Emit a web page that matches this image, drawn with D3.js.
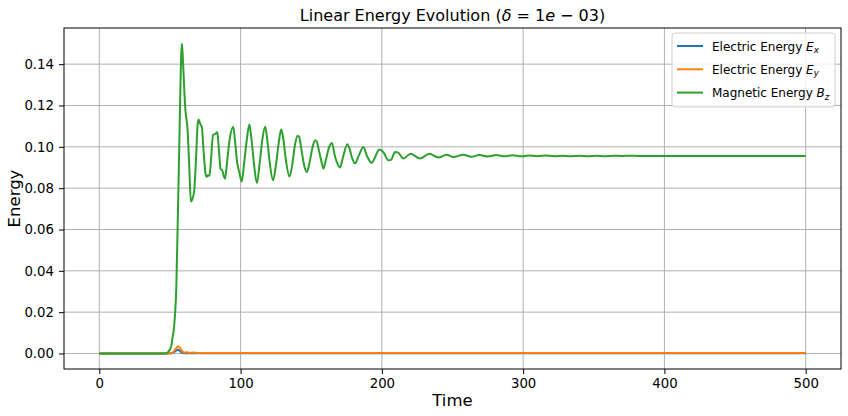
<!DOCTYPE html>
<html>
<head>
<meta charset="utf-8">
<script src="https://cdn.jsdelivr.net/npm/d3@7"></script>
<style>
  body { margin: 0; background: #fff; }
  text { font-family: "DejaVu Sans", sans-serif; fill: #000; }
</style>
</head>
<body>
<div id="wrapper"></div>
<script>
// data
const timeBz = [0, 10, 20, 30, 40, 46, 48, 49.5, 50.7, 51.9, 52.6, 53.5, 54.5, 55.4, 56.3, 57.2, 58, 58.5,
  59.3, 60.8, 62.5, 63.7, 64.8, 65.8, 67.2, 68.5, 69.5, 70.2, 71.5, 72.6, 73.8, 75.2, 75.8, 77, 78, 79,
  80.5, 82, 83.5, 84.5, 85.8, 87, 89, 90.5, 92.2, 94.8, 96.2, 97.5, 99, 100.8, 102.5, 104.5, 106.2,
  107.5, 109, 111.5, 113.5, 115.5, 117.4, 118.8, 120.5, 123, 125, 127, 128.7, 130, 132, 134.6, 136.5,
  138.5, 140.3, 141.5, 143, 145, 146.9, 149, 151, 152.8, 154, 155.5, 157.5, 158.6, 160.5, 162.5, 164.6,
  166.9, 168.5, 170.4, 172.5, 175.6, 177.5, 178.7, 181, 183.5, 186.9, 189.5, 192.8, 195.5, 198.2, 201,
  204.6, 206.5, 209.3, 211.5, 215.2, 220.4, 227, 233.6, 240, 245.9, 250.6, 257.6, 263.5, 269, 275, 281,
  287, 292.5, 298.5, 304, 310, 316, 322, 327.5, 333.5, 340, 346, 352, 358, 364, 370, 376, 382, 400,
  450, 500];
const energyBz = [0, 0, 0, 0, 0, 0, 0.0003, 0.0015, 0.003, 0.0079, 0.011, 0.018, 0.032, 0.06, 0.09, 0.122, 0.145, 0.150,
  0.140, 0.119, 0.108, 0.090, 0.0735, 0.0745, 0.079, 0.095, 0.110, 0.1132, 0.111, 0.1095, 0.098, 0.087, 0.0855, 0.0862, 0.086, 0.093,
  0.1058, 0.1062, 0.1072, 0.100, 0.0895, 0.0885, 0.0846, 0.093, 0.1032, 0.1097, 0.102, 0.0927, 0.0880, 0.0832, 0.092, 0.104, 0.1108,
  0.105, 0.095, 0.0825, 0.092, 0.104, 0.1097, 0.104, 0.093, 0.0838, 0.091, 0.102, 0.1084, 0.105, 0.094, 0.0856, 0.091,
  0.101, 0.1054, 0.1047, 0.099, 0.091, 0.0878, 0.093, 0.100, 0.1032, 0.1025, 0.098, 0.0921, 0.0895, 0.094, 0.0995, 0.1019,
  0.0951, 0.092, 0.0900, 0.095, 0.1013, 0.0983, 0.0951, 0.0920, 0.0955, 0.0999, 0.0955, 0.0922, 0.0955, 0.0987, 0.0975,
  0.0935, 0.0937, 0.0975, 0.0972, 0.0943, 0.0967, 0.0943, 0.0967, 0.0948, 0.0962, 0.0951, 0.0962, 0.0952, 0.0961, 0.0953, 0.0960,
  0.0954, 0.0959, 0.0954, 0.0958, 0.0955, 0.0958, 0.0955, 0.0957, 0.0955, 0.0957, 0.0955, 0.0957, 0.0955, 0.0957, 0.0956, 0.0957, 0.0956, 0.0956,
  0.0956, 0.0956];

const timeEx = [0, 48, 52, 53.5, 55, 55.8, 57, 58.5, 60, 500];
const energyEx = [0, 0, 0.0003, 0.0010, 0.0017, 0.0018, 0.0012, 0.0004, 0.0001, 0.0001];

const timeEy = [0, 48, 51, 52.5, 54, 55.8, 57, 58.5, 60, 62, 64, 66, 70, 80, 500];
const energyEy = [0, 0, 0, 0.0008, 0.0022, 0.0035, 0.0028, 0.0012, 0.0004, 0.0006, 0.0003, 0.0005, 0.0003, 0.0002, 0.0002];

const xTicks = [0, 100, 200, 300, 400, 500];
const yTicks = [0, 0.02, 0.04, 0.06, 0.08, 0.10, 0.12, 0.14];

const seriesColors = ["#1f77b4", "#ff7f0e", "#2ca02c"];

const dimension = {
    width: 848,
    height: 416,
    margin: { top: 28, left: 64, bottom: 47, right: 7 }
};
dimension.boundedWidth = dimension.width - dimension.margin.left - dimension.margin.right;
dimension.boundedHeight = dimension.height - dimension.margin.top - dimension.margin.bottom;

const svg = d3.select("#wrapper").append("svg")
    .attr("width", dimension.width)
    .attr("height", dimension.height);

const bounded = svg.append("g")
    .attr("transform", `translate(${dimension.margin.left},${dimension.margin.top})`);

const xScaler = d3.scaleLinear().domain([-25, 525]).range([0, dimension.boundedWidth]);
const yScaler = d3.scaleLinear().domain([-0.0075, 0.1575]).range([dimension.boundedHeight, 0]);

// grid
bounded.append("g").selectAll("line").data(xTicks).join("line")
    .attr("x1", d => xScaler(d)).attr("x2", d => xScaler(d))
    .attr("y1", 0).attr("y2", dimension.boundedHeight)
    .attr("stroke", "#b0b0b0").attr("stroke-width", 1);
bounded.append("g").selectAll("line").data(yTicks).join("line")
    .attr("y1", d => yScaler(d)).attr("y2", d => yScaler(d))
    .attr("x1", 0).attr("x2", dimension.boundedWidth)
    .attr("stroke", "#b0b0b0").attr("stroke-width", 1);

// lines
const lineGenerator = d3.line()
    .x(d => xScaler(d[0]))
    .y(d => yScaler(d[1]))
    .curve(d3.curveMonotoneX);

const series = [
    d3.zip(timeEx, energyEx),
    d3.zip(timeEy, energyEy),
    d3.zip(timeBz, energyBz)
];
series.forEach((s, i) => {
    bounded.append("path")
        .attr("d", lineGenerator(s))
        .attr("fill", "none")
        .attr("stroke", seriesColors[i])
        .attr("stroke-width", 2)
        .attr("stroke-linejoin", "round");
});

// axes
const xAxis = bounded.append("g")
    .attr("transform", `translate(0,${dimension.boundedHeight})`)
    .call(d3.axisBottom(xScaler).tickValues(xTicks).tickSizeOuter(0).tickSize(5).tickPadding(5));
const yAxis = bounded.append("g")
    .call(d3.axisLeft(yScaler).tickValues(yTicks).tickFormat(d3.format(".2f")).tickSizeOuter(0).tickSize(5).tickPadding(5));
[xAxis, yAxis].forEach(a => {
    a.select(".domain").remove();
    a.selectAll("text").attr("font-family", "DejaVu Sans").attr("font-size", 13.3).attr("fill", "#000");
    a.selectAll("line").attr("stroke", "#000");
});

bounded.append("rect")
    .attr("width", dimension.boundedWidth).attr("height", dimension.boundedHeight)
    .attr("fill", "none").attr("stroke", "#000").attr("stroke-width", 1);

// labels
svg.append("text")
    .attr("x", dimension.margin.left + dimension.boundedWidth / 2)
    .attr("y", 406)
    .attr("text-anchor", "middle")
    .attr("font-size", 16.5)
    .text("Time");
svg.append("text")
    .attr("transform", `translate(20,${dimension.margin.top + dimension.boundedHeight / 2}) rotate(-90)`)
    .attr("text-anchor", "middle")
    .attr("font-size", 16.5)
    .text("Energy");

const title = svg.append("text")
    .attr("x", dimension.margin.left + dimension.boundedWidth / 2)
    .attr("y", 21)
    .attr("text-anchor", "middle")
    .attr("font-size", 16);
title.append("tspan").text("Linear Energy Evolution (");
title.append("tspan").attr("font-style", "italic").text("δ");
title.append("tspan").text(" = 1");
title.append("tspan").attr("font-style", "italic").text("e");
title.append("tspan").text(" − 03)");

// legend
const legend = svg.append("g").attr("transform", "translate(672,33)");
legend.append("rect")
    .attr("width", 163).attr("height", 74).attr("rx", 3)
    .attr("fill", "#fff").attr("fill-opacity", 0.8)
    .attr("stroke", "#d0d0d0");
const legendNames = [["Electric Energy ", "E", "x"], ["Electric Energy ", "E", "y"], ["Magnetic Energy ", "B", "z"]];
legendNames.forEach((n, i) => {
    const ly = 13 + i * 23.3;
    legend.append("line")
        .attr("x1", 5).attr("x2", 31).attr("y1", ly).attr("y2", ly)
        .attr("stroke", seriesColors[i]).attr("stroke-width", 2);
    const t = legend.append("text")
        .attr("x", 40).attr("y", ly + 4.5)
        .attr("font-size", 12);
    t.append("tspan").text(n[0]);
    t.append("tspan").attr("font-style", "italic").text(n[1]);
    t.append("tspan").attr("font-style", "italic").attr("font-size", 8.6).attr("dy", 2.5).text(n[2]);
});
</script>
</body>
</html>
